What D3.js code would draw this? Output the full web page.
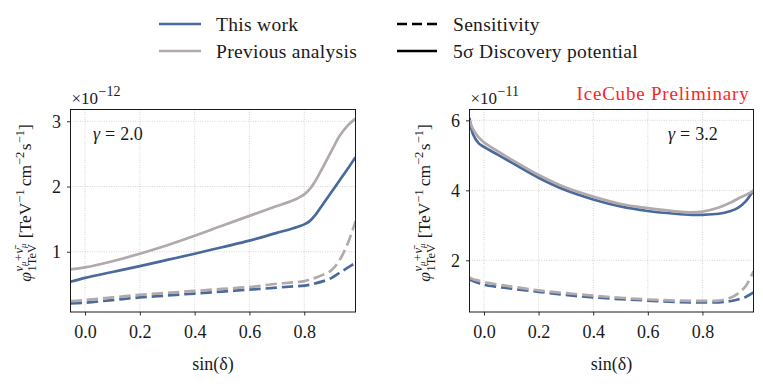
<!DOCTYPE html>
<html><head><meta charset="utf-8">
<script src="https://cdn.jsdelivr.net/npm/d3@7"></script>
<style>body{margin:0;background:#fff}svg{display:block}</style>
</head><body>
<svg id="c" width="763" height="386"></svg>
<script>
// ---------- data ----------
const xTicks = [0.0, 0.2, 0.4, 0.6, 0.8];
const xTickLabels = ["0.0", "0.2", "0.4", "0.6", "0.8"];
const leftYTicks = [1, 2, 3];
const rightYTicks = [2, 4, 6];
const xDomain = [-0.053, 0.987];
const leftYDomain = [0.077, 3.18];
const rightYDomain = [0.523, 6.31];

// gamma = 2.0 panel (x 1e-12)
const leftX          = [-0.053, 0.0, 0.1, 0.2, 0.3, 0.4, 0.5, 0.6, 0.7, 0.76, 0.8, 0.82, 0.84, 0.87, 0.9, 0.93, 0.96, 0.987];
const leftThisDisc   = [0.54, 0.60, 0.69, 0.78, 0.875, 0.97, 1.07, 1.17, 1.29, 1.36, 1.42, 1.47, 1.56, 1.74, 1.92, 2.10, 2.28, 2.45];
const leftPrevDisc   = [0.73, 0.76, 0.855, 0.97, 1.10, 1.245, 1.40, 1.55, 1.70, 1.79, 1.88, 1.96, 2.08, 2.31, 2.55, 2.78, 2.94, 3.04];
const leftThisSens   = [0.21, 0.22, 0.26, 0.30, 0.33, 0.36, 0.39, 0.42, 0.45, 0.47, 0.48, 0.495, 0.515, 0.55, 0.60, 0.68, 0.76, 0.83];
const leftPrevSens   = [0.245, 0.26, 0.30, 0.34, 0.37, 0.40, 0.43, 0.46, 0.51, 0.53, 0.55, 0.575, 0.60, 0.65, 0.72, 0.88, 1.14, 1.47];

// gamma = 3.2 panel (x 1e-11)
const rightX         = [-0.053, -0.04, -0.02, 0.0, 0.05, 0.1, 0.2, 0.3, 0.4, 0.5, 0.6, 0.7, 0.76, 0.8, 0.86, 0.9, 0.93, 0.96, 0.987];
const rightThisDisc  = [6.07, 5.60, 5.35, 5.24, 5.02, 4.80, 4.36, 4.00, 3.74, 3.54, 3.41, 3.33, 3.30, 3.30, 3.33, 3.40, 3.50, 3.70, 4.00];
const rightPrevDisc  = [6.00, 5.75, 5.52, 5.37, 5.12, 4.88, 4.44, 4.08, 3.82, 3.61, 3.49, 3.40, 3.37, 3.39, 3.51, 3.64, 3.76, 3.87, 3.98];
const rightThisSens  = [1.45, 1.41, 1.35, 1.30, 1.24, 1.19, 1.10, 1.01, 0.94, 0.89, 0.85, 0.81, 0.80, 0.80, 0.80, 0.83, 0.88, 0.96, 1.08];
const rightPrevSens  = [1.50, 1.46, 1.42, 1.38, 1.31, 1.25, 1.14, 1.06, 0.99, 0.93, 0.88, 0.85, 0.84, 0.84, 0.85, 0.92, 1.05, 1.28, 1.69];

const legendSeries = ["This work", "Previous analysis"];
const legendStyles = ["Sensitivity", "5\u03c3 Discovery potential"];
const gammaValues = ["2.0", "3.2"];
const exponents = ["\u221212", "\u221211"];

// ---------- style ----------
const BLUE = "#4a6a9b";
const GREY = "#b1a9ac";
const INK = "#1a1a1a";
const FONT = "'Liberation Serif', 'Times New Roman', serif";
const DASH = "11.4,4.9";
const LW = 2.7;

const svg = d3.select("#c");
svg.append("rect").attr("width", 763).attr("height", 386).attr("fill", "#fff");

const panels = [
  {x0: 70.5, x1: 355.5, xs: leftX, yDomain: leftYDomain, yTicks: leftYTicks,
   series: [[leftThisSens, BLUE, true], [leftThisDisc, BLUE, false], [leftPrevSens, GREY, true], [leftPrevDisc, GREY, false]],
   gamma: gammaValues[0], gammaX: 93, exp: exponents[0]},
  {x0: 469.5, x1: 753.5, xs: rightX, yDomain: rightYDomain, yTicks: rightYTicks,
   series: [[rightThisSens, BLUE, true], [rightThisDisc, BLUE, false], [rightPrevSens, GREY, true], [rightPrevDisc, GREY, false]],
   gamma: gammaValues[1], gammaX: 668, exp: exponents[1]}
];
const TOP = 109.5, BOT = 312;

function run(parent, x, y, str, size, italic, fill) {
  const t = parent.append("text").attr("x", x).attr("y", y)
    .attr("font-family", FONT).attr("font-size", size)
    .attr("font-style", italic ? "italic" : "normal")
    .attr("fill", fill || INK).text(str);
  return t.node().getComputedTextLength();
}

function yLabel(cx, cy) {
  const g = svg.append("g").attr("transform", `translate(${cx},${cy}) rotate(-90)`);
  const inner = g.append("g");
  let x = 0;
  const S = 17.5, s = 12.5, ss = 9;
  x += run(inner, x, 0, "\u03c6", S, true) + 0.5;
  const sx = x;
  let px = sx;
  px += run(inner, px, -8, "\u03bd", s, true);
  px += run(inner, px, -5.5, "\u03bc", ss, true) + 0.5;
  px += run(inner, px, -8, "+", s, false) + 0.5;
  px += run(inner, px, -8, "\u03bd\u0304", s, true);
  px += run(inner, px, -5.5, "\u03bc", ss, true);
  let bx = sx + run(inner, sx, 5, "1TeV", s, false);
  x = Math.max(px, bx) + 5;
  x += run(inner, x, 0, "[TeV", S, false);
  x += run(inner, x, -7.5, "\u22121", s, false) + 3;
  x += run(inner, x, 0, "cm", S, false);
  x += run(inner, x, -7.5, "\u22122", s, false) + 1.5;
  x += run(inner, x, 0, "s", S, false);
  x += run(inner, x, -7.5, "\u22121", s, false);
  x += run(inner, x, 0, "]", S, false);
  inner.attr("transform", `translate(${-x / 2},0)`);
}

panels.forEach((p, i) => {
  const x = d3.scaleLinear().domain(xDomain).range([p.x0, p.x1]);
  const y = d3.scaleLinear().domain(p.yDomain).range([BOT, TOP]);
  const g = svg.append("g");

  // grid
  g.selectAll(".gx").data(xTicks).enter().append("line")
    .attr("x1", d => x(d)).attr("x2", d => x(d)).attr("y1", TOP).attr("y2", BOT)
    .attr("stroke", "#c4c4c4").attr("stroke-width", 0.8).attr("stroke-dasharray", "0.9,1.5");
  g.selectAll(".gy").data(p.yTicks).enter().append("line")
    .attr("x1", p.x0).attr("x2", p.x1).attr("y1", d => y(d)).attr("y2", d => y(d))
    .attr("stroke", "#c4c4c4").attr("stroke-width", 0.8).attr("stroke-dasharray", "0.9,1.5");

  // curves
  const clipId = "clip" + i;
  svg.append("clipPath").attr("id", clipId).append("rect")
    .attr("x", p.x0).attr("y", TOP).attr("width", p.x1 - p.x0).attr("height", BOT - TOP);
  const cg = g.append("g").attr("clip-path", `url(#${clipId})`);
  p.series.forEach(([vals, col, dashed]) => {
    const line = d3.line().x((d, k) => x(p.xs[k])).y(d => y(d)).curve(d3.curveCatmullRom.alpha(0.5));
    cg.append("path").datum(vals).attr("d", line).attr("fill", "none")
      .attr("stroke", col).attr("stroke-width", LW)
      .attr("stroke-dasharray", dashed ? DASH : null)
      .attr("stroke-linejoin", "round");
  });

  // axes
  const xa = g.append("g").attr("transform", `translate(0,${BOT})`)
    .call(d3.axisBottom(x).tickValues(xTicks).tickFormat((d, k) => xTickLabels[k]).tickSize(3.5).tickPadding(5));
  const ya = g.append("g").attr("transform", `translate(${p.x0},0)`)
    .call(d3.axisLeft(y).tickValues(p.yTicks).tickFormat(d3.format("d")).tickSize(3.5).tickPadding(6));
  [xa, ya].forEach(a => {
    a.attr("font-family", FONT);
    a.select(".domain").remove();
    a.selectAll(".tick line").attr("stroke", INK).attr("stroke-width", 0.9);
    a.selectAll(".tick text").attr("font-family", FONT).attr("font-size", 18).attr("fill", INK);
  });
  xa.selectAll(".tick text").attr("dy", "0.95em");
  ya.selectAll(".tick text").attr("dy", "0.34em");

  // frame
  g.append("rect").attr("x", p.x0).attr("y", TOP).attr("width", p.x1 - p.x0).attr("height", BOT - TOP)
    .attr("fill", "none").attr("stroke", INK).attr("stroke-width", 1);

  // x label
  g.append("text").attr("x", (p.x0 + p.x1) / 2).attr("y", 370).attr("text-anchor", "middle")
    .attr("font-family", FONT).attr("font-size", 18).attr("fill", INK)
    .text("sin(\u03b4)");

  // offset text
  const ox = p.x0 + 1;
  const w = run(g, ox, 104, "\u00d710", 17, false);
  run(g, ox + w + 0.5, 96, p.exp, 14, false);

  // gamma annotation
  let gx = p.gammaX;
  gx += run(g, gx, 140, "\u03b3", 18, true) + 5;
  gx += run(g, gx, 140, "=", 18, false) + 5;
  run(g, gx, 140, p.gamma, 18, false);

  // y label
  yLabel(p.x0 - 39.5, 203);
});

// IceCube Preliminary
svg.append("text").attr("x", 749.5).attr("y", 100).attr("text-anchor", "end")
  .attr("font-family", FONT).attr("font-size", 19).attr("letter-spacing", 0.8).attr("fill", "#ff2424")
  .text("IceCube Preliminary");

// legend
const lg = svg.append("g");
const rowsY = [24, 51];
legendSeries.forEach((name, k) => {
  lg.append("line").attr("x1", 159).attr("x2", 201).attr("y1", rowsY[k]).attr("y2", rowsY[k])
    .attr("stroke", k === 0 ? BLUE : GREY).attr("stroke-width", LW);
  lg.append("text").attr("x", 216).attr("y", rowsY[k] + 6.5).attr("font-family", FONT)
    .attr("font-size", 19.5).attr("letter-spacing", 0.3).attr("fill", INK).text(name);
});
legendStyles.forEach((name, k) => {
  lg.append("line").attr("x1", 397).attr("x2", 437).attr("y1", rowsY[k]).attr("y2", rowsY[k])
    .attr("stroke", "#000").attr("stroke-width", LW)
    .attr("stroke-dasharray", k === 0 ? "10,5" : null);
  lg.append("text").attr("x", 453).attr("y", rowsY[k] + 6.5).attr("font-family", FONT)
    .attr("font-size", 19.5).attr("letter-spacing", 0.3).attr("fill", INK).text(name);
});
</script>
</body></html>
